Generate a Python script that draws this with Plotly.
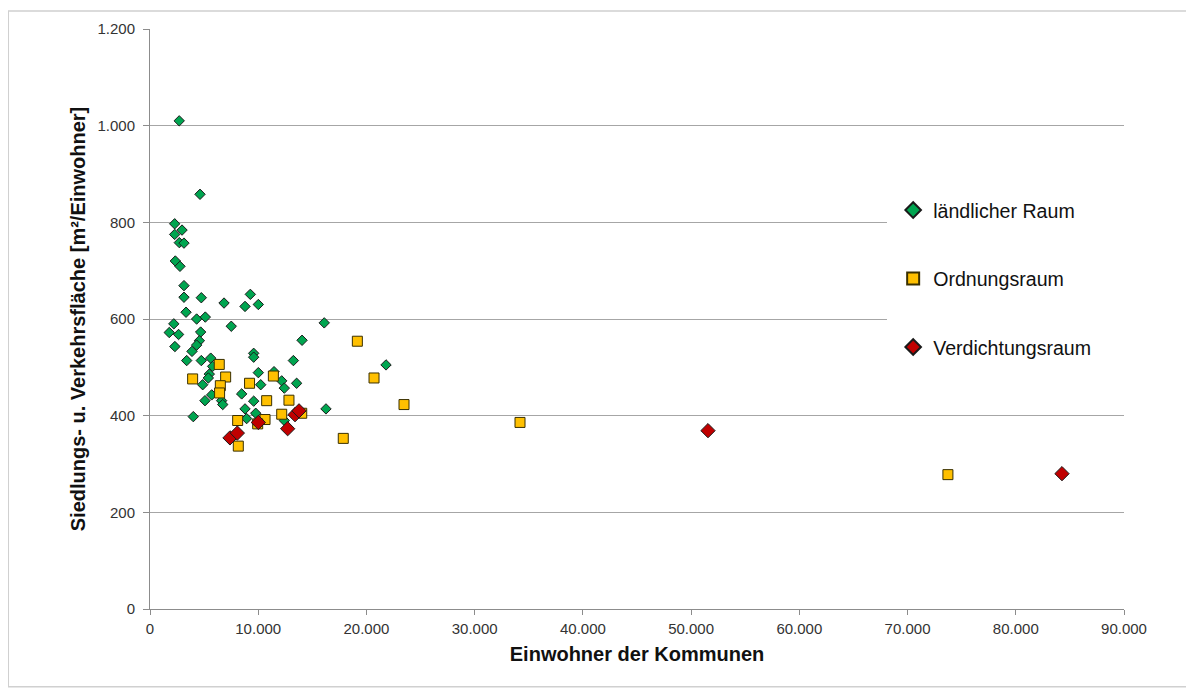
import plotly.graph_objects as go

# ländlicher Raum
rural_x = [2700, 4620, 2280, 2960, 2280, 2710, 3140, 2340, 2770, 3140, 3140, 4740, 6840, 3330,
           4310, 5110, 9270, 8780, 10010, 2200, 1780, 2640, 4680, 7510, 2300, 4560, 4310, 3880,
           3390, 4740, 5610, 5790, 9580, 9580, 16100, 14050, 13250, 10010, 11460, 5480, 4870,
           5390, 10230, 8470, 5700, 5080, 6620, 6720, 9580, 8780, 9770, 8930, 4000, 12170,
           12410, 13550, 12410, 16260, 21810]
rural_y = [1010, 858, 797, 784, 775, 758, 757, 720, 709, 669, 645, 644, 633, 614,
           600, 604, 651, 626, 630, 590, 572, 568, 573, 585, 543, 555, 546, 533,
           514, 514, 519, 502, 529, 521, 592, 556, 514, 489, 491, 486, 464,
           478, 464, 445, 443, 431, 431, 423, 430, 414, 405, 394, 398, 472,
           457, 467, 390, 414, 505]

# Ordnungsraum
ord_x = [6400, 3940, 6990, 6500, 6430, 9200, 11400, 10780, 12840, 12170, 14020, 10630, 9950,
         8100, 8160, 19160, 20700, 23470, 17860, 34190, 73730]
ord_y = [506, 476, 480, 462, 447, 467, 482, 431, 432, 403, 405, 392, 383,
         390, 337, 554, 478, 423, 353, 386, 278]

# Verdichtungsraum
ver_x = [7390, 8070, 10010, 13400, 13770, 12720, 51560, 84270]
ver_y = [354, 364, 386, 402, 410, 373, 369, 280]

x_ticks = [0, 10000, 20000, 30000, 40000, 50000, 60000, 70000, 80000, 90000]
y_ticks = [0, 200, 400, 600, 800, 1000, 1200]

FONT = "Liberation Sans, Arial, sans-serif"

fig = go.Figure()
fig.add_trace(go.Scatter(
    x=rural_x, y=rural_y, mode="markers", name="ländlicher Raum", legendgroup="a",
    marker=dict(symbol="diamond", size=8, color="#00A550", line=dict(color="#1a1a1a", width=1))))
fig.add_trace(go.Scatter(
    x=ord_x, y=ord_y, mode="markers", name="Ordnungsraum", legendgroup="b",
    marker=dict(symbol="square", size=10, color="#FFC000", line=dict(color="#3a3000", width=1))))
fig.add_trace(go.Scatter(
    x=ver_x, y=ver_y, mode="markers", name="Verdichtungsraum", legendgroup="c",
    marker=dict(symbol="diamond", size=11, color="#C00000", line=dict(color="#1a1a1a", width=1))))

fig.update_layout(
    width=1186, height=683,
    margin=dict(l=142, r=70, t=19, b=82),
    paper_bgcolor="white", plot_bgcolor="white",
    separators=",.",
    font=dict(family=FONT, size=15, color="#333333"),
    showlegend=True,
    legend=dict(x=0.763, y=0.721, xanchor="left", yanchor="top",
                bgcolor="rgba(0,0,0,0)", font=dict(family=FONT, size=19.6, color="#111111"),
                traceorder="grouped", tracegroupgap=40, itemsizing="constant"),
    shapes=[
        dict(type="rect", xref="paper", yref="paper",
             x0=-0.1455, x1=1.0657, y0=-0.134, y1=1.031,
             line=dict(color="#d0d0d0", width=1.5), layer="below"),
        dict(type="rect", xref="x", yref="y", x0=68100, x1=90000, y0=420, y1=950,
             fillcolor="white", line=dict(width=0), layer="between"),
    ],
)
fig.update_xaxes(
    range=[0, 90000], tickvals=x_ticks, tickformat=",d",
    showgrid=False, zeroline=False,
    showline=True, linecolor="#8c8c8c", linewidth=1,
    ticks="outside", ticklen=5, tickcolor="#8c8c8c", ticklabelstandoff=1,
    tickfont=dict(family=FONT, size=15, color="#333333"),
    title=dict(text="<b>Einwohner der Kommunen</b>", font=dict(family=FONT, size=20, color="#111111"), standoff=10),
)
fig.update_yaxes(
    range=[0, 1200], tickvals=y_ticks, tickformat=",d",
    showgrid=True, gridcolor="#a6a6a6", gridwidth=1, zeroline=False,
    showline=True, linecolor="#8c8c8c", linewidth=1,
    ticks="outside", ticklen=6, tickcolor="#8c8c8c", ticklabelstandoff=5,
    tickfont=dict(family=FONT, size=15, color="#333333"),
    title=dict(text="<b>Siedlungs- u. Verkehrsfläche [m²/Einwohner]</b>", font=dict(family=FONT, size=20, color="#111111"), standoff=6),
)

fig.write_html("out.html")
